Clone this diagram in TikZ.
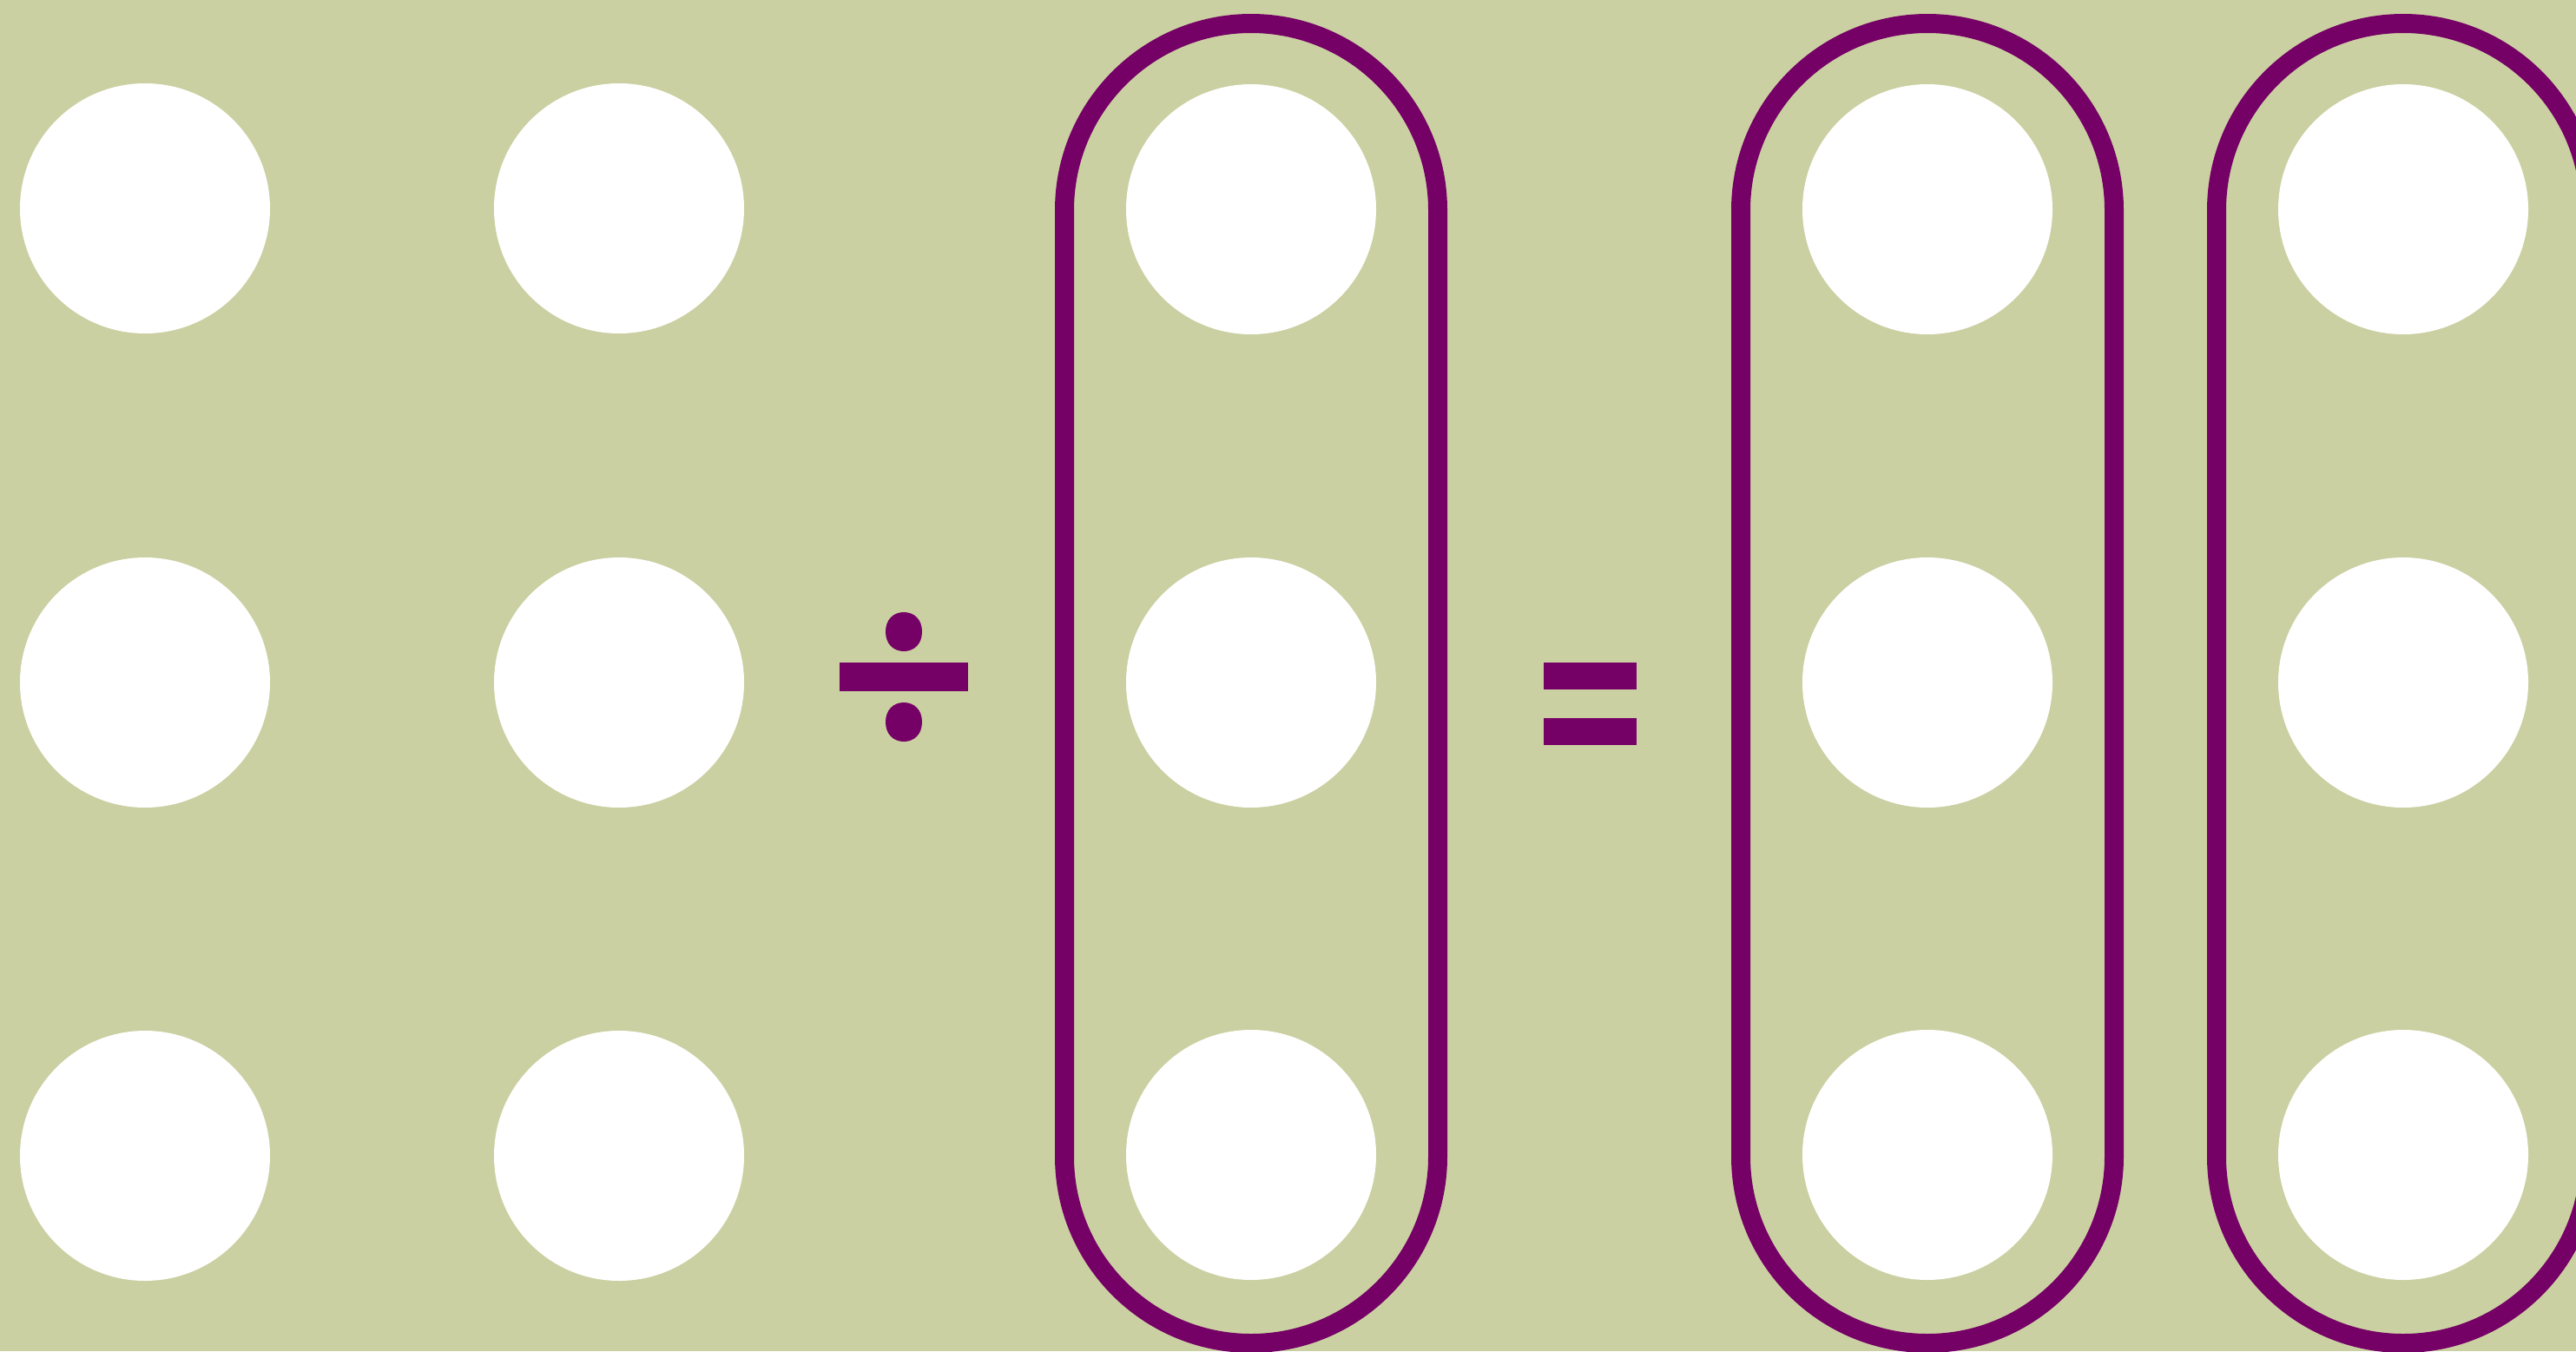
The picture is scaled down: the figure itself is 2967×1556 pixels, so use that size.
\documentclass[tikz,border=0pt]{standalone}
\definecolor{bg}{RGB}{203,208,162}
\definecolor{plum}{RGB}{117,0,102}
\begin{document}
\begin{tikzpicture}[x=1pt,y=-1pt,
  dot/.style={circle,fill=white,minimum size=288pt,inner sep=0pt,outer sep=0pt},
  capsule/.style={draw=plum,line width=22pt,rounded corners=215pt},
  sym/.style={fill=plum}]
\fill[bg] (0,0) rectangle (2967,1556);
\useasboundingbox (0,0) rectangle (2967,1556);
% left group (2 columns)
\node[dot] (a1) at (167,240) {};
\node[dot] (a2) at (167,786) {};
\node[dot] (a3) at (167,1331) {};
\node[dot] (b1) at (713,240) {};
\node[dot] (b2) at (713,786) {};
\node[dot] (b3) at (713,1331) {};
% divide sign
\fill[sym] (967,763) rectangle (1115,796);
\foreach \cy in {727.5,831.5}{
  \fill[sym] (1041,\cy-22.5) .. controls (1053,\cy-22.5) and (1062,\cy-14) .. (1062,\cy)
     .. controls (1062,\cy+14) and (1053,\cy+22.5) .. (1041,\cy+22.5)
     .. controls (1029,\cy+22.5) and (1020,\cy+14) .. (1020,\cy)
     .. controls (1020,\cy-14) and (1029,\cy-22.5) .. cycle;
}
% divisor capsule
\draw[capsule] (1226,27) rectangle (1656,1547);
\node[dot] (c1) at (1441,241) {};
\node[dot] (c2) at (1441,786) {};
\node[dot] (c3) at (1441,1330) {};
% equals sign
\fill[sym] (1778,763) rectangle (1885,794);
\fill[sym] (1778,827) rectangle (1885,858);
% result capsules
\draw[capsule] (2005,27) rectangle (2435,1547);
\node[dot] (d1) at (2220,241) {};
\node[dot] (d2) at (2220,786) {};
\node[dot] (d3) at (2220,1330) {};
\draw[capsule] (2553,27) rectangle (2983,1547);
\node[dot] (e1) at (2768,241) {};
\node[dot] (e2) at (2768,786) {};
\node[dot] (e3) at (2768,1330) {};
\end{tikzpicture}
\end{document}
